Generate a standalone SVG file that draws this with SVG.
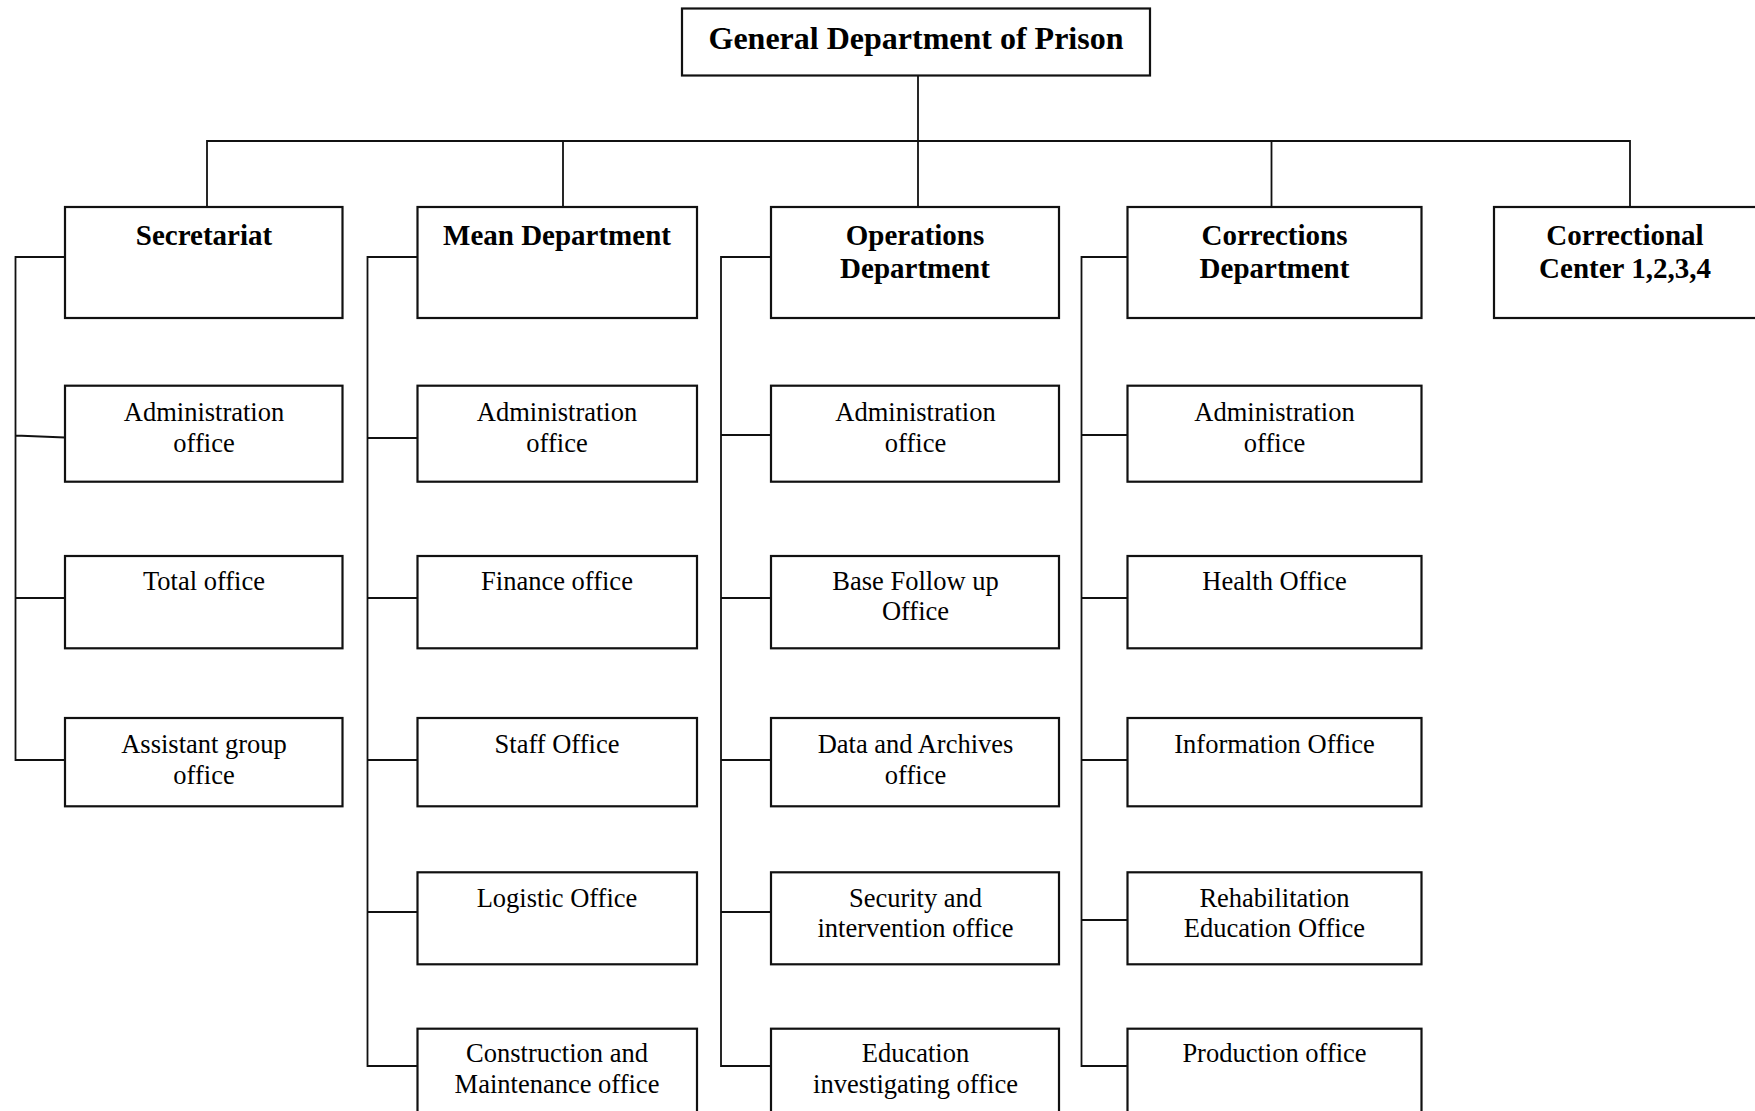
<svg xmlns="http://www.w3.org/2000/svg" width="1755" height="1111" viewBox="0 0 1755 1111">
<style>
.box{fill:#fff;stroke:#111;stroke-width:2.2}
.ln{fill:none;stroke:#111;stroke-width:1.8}
.t0{font-family:"Liberation Serif","Times New Roman",serif;font-weight:bold;font-size:32px;text-anchor:middle;fill:#000}
.t1{font-family:"Liberation Serif","Times New Roman",serif;font-weight:bold;font-size:29px;text-anchor:middle;fill:#000}
.t2{font-family:"Liberation Serif","Times New Roman",serif;font-size:26.5px;text-anchor:middle;fill:#000}
</style>
<rect width="1755" height="1111" fill="#fff"/>
<g id="connectors">
<path class="ln" d="M918,75.5V141M207,207V141H1630V207M563,141V207M918,141V207M1271.5,141V207"/>
<path class="ln" d="M65,257H15.5V760H65M15.5,435.5L65,437.5M15.5,598H65"/>
<path class="ln" d="M417.5,257H367.5V1066H417.5M367.5,438H417.5M367.5,598H417.5M367.5,760H417.5M367.5,912H417.5"/>
<path class="ln" d="M771,257H721V1066H771M721,435H771M721,598H771M721,760H771M721,912H771"/>
<path class="ln" d="M1127.5,257H1081.5V1066H1127.5M1081.5,435H1127.5M1081.5,598H1127.5M1081.5,760H1127.5M1081.5,920H1127.5"/>
</g>
<g id="general"><rect class="box" x="682" y="8.5" width="468" height="67"/><text class="t0" x="916" y="49">General Department of Prison</text></g>
<g id="secretariat"><rect class="box" x="65" y="207" width="277.5" height="111"/><text class="t1" x="204" y="245">Secretariat</text></g>
<g id="mean"><rect class="box" x="417.5" y="207" width="279.5" height="111"/><text class="t1" x="557" y="245">Mean Department</text></g>
<g id="operations"><rect class="box" x="771" y="207" width="288" height="111"/><text class="t1" x="915" y="245">Operations</text><text class="t1" x="915" y="278">Department</text></g>
<g id="corrections"><rect class="box" x="1127.5" y="207" width="294" height="111"/><text class="t1" x="1274.5" y="245">Corrections</text><text class="t1" x="1274.5" y="278">Department</text></g>
<g id="correctional"><rect class="box" x="1494" y="207" width="270" height="111"/><text class="t1" x="1625" y="245">Correctional</text><text class="t1" x="1625" y="278">Center 1,2,3,4</text></g>

<g id="sec-admin"><rect class="box" x="65" y="385.7" width="277.5" height="96"/><text class="t2" x="204" y="420.5">Administration</text><text class="t2" x="204" y="452">office</text></g>
<g id="sec-total"><rect class="box" x="65" y="556" width="277.5" height="92.3"/><text class="t2" x="204" y="590">Total office</text></g>
<g id="sec-assistant"><rect class="box" x="65" y="718" width="277.5" height="88.3"/><text class="t2" x="204" y="753">Assistant group</text><text class="t2" x="204" y="784">office</text></g>

<g id="mean-admin"><rect class="box" x="417.5" y="385.7" width="279.5" height="96"/><text class="t2" x="557" y="420.5">Administration</text><text class="t2" x="557" y="452">office</text></g>
<g id="mean-finance"><rect class="box" x="417.5" y="556" width="279.5" height="92.3"/><text class="t2" x="557" y="590">Finance office</text></g>
<g id="mean-staff"><rect class="box" x="417.5" y="718" width="279.5" height="88.3"/><text class="t2" x="557" y="753">Staff Office</text></g>
<g id="mean-logistic"><rect class="box" x="417.5" y="872.3" width="279.5" height="92"/><text class="t2" x="557" y="906.7">Logistic Office</text></g>
<g id="mean-construction"><rect class="box" x="417.5" y="1028.7" width="279.5" height="95"/><text class="t2" x="557" y="1062.3">Construction and</text><text class="t2" x="557" y="1093.3">Maintenance office</text></g>

<g id="ops-admin"><rect class="box" x="771" y="385.7" width="288" height="96"/><text class="t2" x="915.5" y="420.5">Administration</text><text class="t2" x="915.5" y="452">office</text></g>
<g id="ops-base"><rect class="box" x="771" y="556" width="288" height="92.3"/><text class="t2" x="915.5" y="590">Base Follow up</text><text class="t2" x="915.5" y="620">Office</text></g>
<g id="ops-data"><rect class="box" x="771" y="718" width="288" height="88.3"/><text class="t2" x="915.5" y="753">Data and Archives</text><text class="t2" x="915.5" y="784">office</text></g>
<g id="ops-security"><rect class="box" x="771" y="872.3" width="288" height="92"/><text class="t2" x="915.5" y="906.7">Security and</text><text class="t2" x="915.5" y="936.7">intervention office</text></g>
<g id="ops-education"><rect class="box" x="771" y="1028.7" width="288" height="95"/><text class="t2" x="915.5" y="1062.3">Education</text><text class="t2" x="915.5" y="1093.3">investigating office</text></g>

<g id="corr-admin"><rect class="box" x="1127.5" y="385.7" width="294" height="96"/><text class="t2" x="1274.5" y="420.5">Administration</text><text class="t2" x="1274.5" y="452">office</text></g>
<g id="corr-health"><rect class="box" x="1127.5" y="556" width="294" height="92.3"/><text class="t2" x="1274.5" y="590">Health Office</text></g>
<g id="corr-information"><rect class="box" x="1127.5" y="718" width="294" height="88.3"/><text class="t2" x="1274.5" y="753">Information Office</text></g>
<g id="corr-rehab"><rect class="box" x="1127.5" y="872.3" width="294" height="92"/><text class="t2" x="1274.5" y="907">Rehabilitation</text><text class="t2" x="1274.5" y="937">Education Office</text></g>
<g id="corr-production"><rect class="box" x="1127.5" y="1028.7" width="294" height="95"/><text class="t2" x="1274.5" y="1062.3">Production office</text></g>
</svg>
